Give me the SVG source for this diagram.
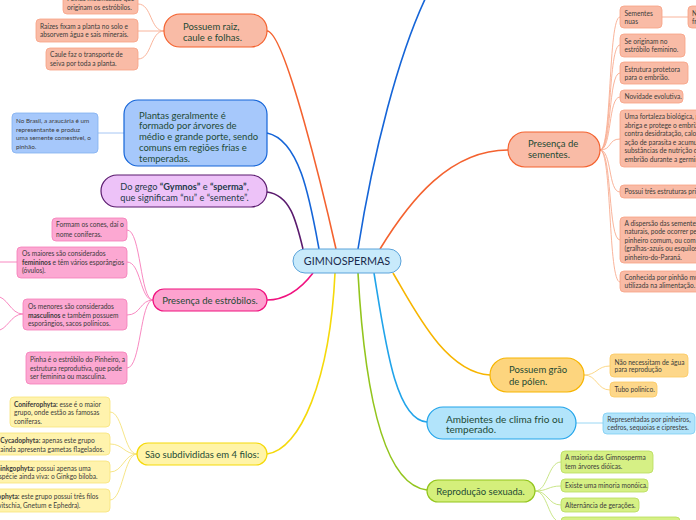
<svg xmlns="http://www.w3.org/2000/svg" width="696" height="520" viewBox="0 0 696 520">
<style>
text{font-family:Lato,"Noto Sans","Liberation Sans",sans-serif}
.m{font-size:9.5px;fill:#1e4a35}
.c{font-size:6.6px;fill:#3b3b3b}
.b{font-weight:bold}
.mid{text-anchor:middle}
.con path,.con line{fill:none}
.t{stroke-width:1.6}
.s{stroke-width:0.9}
</style>
<rect width="696" height="520" fill="#ffffff"/>
<g id="connectors" class="con">
<path class="t" stroke="#f4622f" d="M336,249 C325,200 285,31 267,31"/>
<path class="t" stroke="#1565d8" d="M319,249 C310,200 300,140 267,133"/>
<path class="t" stroke="#5a1a6e" d="M303,249 C296,220 290,195 267,192"/>
<path class="t" stroke="#f0127f" d="M313,273 C300,290 285,300 267,300"/>
<path class="t" stroke="#f5d90a" d="M335,273 C330,380 300,450 267,454"/>
<path class="t" stroke="#1565d8" d="M358,249 C372,160 398,50 432,-15"/>
<path class="t" stroke="#f4622f" d="M380,249 C410,200 450,150 508,150"/>
<path class="t" stroke="#93c51d" d="M358,273 C365,400 385,485 427,490"/>
<path class="t" stroke="#21a4ea" d="M374,273 C385,340 395,420 427,422"/>
<path class="t" stroke="#f7b500" d="M393,273 C415,310 445,372 490,375"/>
<g stroke="#f8ab90" class="s">
<path d="M164,31 C150,31 152,4 138,4"/>
<path d="M164,31 L138,31"/>
<path d="M164,31 C150,31 152,59 138,59"/>
</g>
<line stroke="#9cc0f3" class="s" x1="98" y1="133" x2="124" y2="133"/>
<g stroke="#f77cba" class="s">
<path d="M153,300 C140,300 141,230 127,230"/>
<path d="M153,300 C140,300 141,262 127,262"/>
<path d="M153,300 C140,300 141,315 127,315"/>
<path d="M153,300 C140,300 141,368 127,368"/>
<line x1="17" y1="262" x2="-5" y2="262"/>
<path d="M23,314 C10,314 8,296 -5,296"/>
<path d="M23,314 C10,314 8,331 -5,331"/>
</g>
<g stroke="#f5e27a" class="s">
<path d="M137,454 C124,454 123,412 110,412"/>
<path d="M137,454 C124,454 123,444 110,444"/>
<path d="M137,454 C124,454 123,472 110,472"/>
<path d="M137,454 C124,454 123,500 110,500"/>
</g>
<g stroke="#f8ab90" class="s">
<path d="M600,150 C612,150 608,17 620,17"/>
<path d="M600,150 C612,150 608,45 620,45"/>
<path d="M600,150 C612,150 608,73 620,73"/>
<path d="M600,150 C612,150 608,97 620,97"/>
<path d="M600,150 C612,150 608,139 620,139"/>
<path d="M600,150 C612,150 608,192 620,192"/>
<path d="M600,150 C612,150 608,240 620,240"/>
<path d="M600,150 C612,150 608,282 620,282"/>
<line x1="662" y1="17" x2="688" y2="17"/>
</g>
<g stroke="#fbd27a" class="s">
<path d="M584,375 C597,375 597,366 610,366"/>
<path d="M584,375 C597,375 597,390 610,390"/>
</g>
<line stroke="#8fd3f3" class="s" x1="576" y1="423" x2="603" y2="423"/>
<g stroke="#c3e27a" class="s">
<path d="M535,491 C548,491 548,462 561,462"/>
<path d="M535,491 C548,491 548,486 561,486"/>
<path d="M535,491 C548,491 548,505 561,505"/>
<path d="M535,491 C548,491 548,522 561,522"/>
</g>
</g>

<g id="center">
<rect x="293" y="249" width="108" height="24" rx="12" fill="#c8eafb" stroke="#5aa3da" stroke-width="1"/>
<text x="347" y="265" class="mid" style="font-size:10.8px;fill:#1a2b4c">GIMNOSPERMAS</text>
</g>

<g id="raiz">
<rect x="164" y="14" width="103" height="33" rx="16" fill="#f9bba6" stroke="#f4622f" stroke-width="1.2"/>
<text class="m" x="183" y="30.3">Possuem raiz,</text>
<text class="m" x="183" y="41">caule e folhas.</text>
</g>
<g id="raiz-a">
<rect x="63" y="-12" width="75" height="26" rx="4" fill="#f9bba6" stroke="#f8a184" stroke-width="0.8"/>
<text class="c" x="67" y="1">Folhas modificadas que</text>
<text class="c" x="67" y="9.8">originam os estróbilos.</text>
</g>
<g id="raiz-b">
<rect x="36" y="19" width="102" height="23" rx="4" fill="#f9bba6" stroke="#f8a184" stroke-width="0.8"/>
<text class="c" x="40" y="28.5">Raízes fixam a planta no solo e</text>
<text class="c" x="40" y="37.4">absorvem água e sais minerais.</text>
</g>
<g id="raiz-c">
<rect x="46" y="48" width="92" height="22" rx="4" fill="#f9bba6" stroke="#f8a184" stroke-width="0.8"/>
<text class="c" x="50" y="56.7">Caule faz o transporte de</text>
<text class="c" x="50" y="65.7">seiva por toda a planta.</text>
</g>

<g id="plantas">
<rect x="124" y="100" width="143" height="66" rx="14" fill="#a6c8fb" stroke="#1565d8" stroke-width="1.2"/>
<text class="m" x="139" y="118.5">Plantas geralmente é</text>
<text class="m" x="139" y="129.3">formado por árvores de</text>
<text class="m" x="139" y="140.1">médio e grande porte, sendo</text>
<text class="m" x="139" y="150.9">comuns em regiões frias e</text>
<text class="m" x="139" y="161.7">temperadas.</text>
</g>
<g id="plantas-a">
<rect x="12" y="113" width="86" height="40" rx="4" fill="#a6c8fb" stroke="#82b0f0" stroke-width="0.8"/>
<text class="c" x="16" y="123.4" style="font-size:6.3px">No Brasil, a araucária é um</text>
<text class="c" x="16" y="131.8" style="font-size:6.3px">representante e produz</text>
<text class="c" x="16" y="140.4" style="font-size:6.3px">uma semente comestível, o</text>
<text class="c" x="16" y="149" style="font-size:6.3px">pinhão.</text>
</g>

<g id="grego">
<rect x="101" y="175" width="166" height="32" rx="16" fill="#edc2f8" stroke="#5a1a6e" stroke-width="1.2"/>
<text class="m mid" x="184.5" y="190" style="font-size:9.2px;fill:#243a4a">Do grego <tspan class="b">“Gymnos”</tspan> e <tspan class="b">“sperma”</tspan>,</text>
<text class="m mid" x="184.5" y="201.4" style="font-size:9.2px;fill:#243a4a">que significam “nu” e “semente”.</text>
</g>

<g id="estrobilos">
<rect x="153" y="289" width="114" height="22" rx="11" fill="#fda2cf" stroke="#f0127f" stroke-width="1.2"/>
<text class="m mid" x="210" y="304">Presença de estróbilos.</text>
</g>
<g id="estrobilos-a">
<rect x="52" y="218" width="75" height="23" rx="4" fill="#fca8d2" stroke="#f57cb8" stroke-width="0.8"/>
<text class="c" x="56" y="227.4">Formam os cones, daí o</text>
<text class="c" x="56" y="236.6">nome coníferas.</text>
</g>
<g id="estrobilos-b">
<rect x="17" y="247" width="110" height="31" rx="4" fill="#fca8d2" stroke="#f57cb8" stroke-width="0.8"/>
<text class="c" x="22" y="255.6">Os maiores são considerados</text>
<text class="c" x="22" y="264.6"><tspan class="b">femininos</tspan> e têm vários esporângios</text>
<text class="c" x="22" y="273.4">(óvulos).</text>
</g>
<g id="estrobilos-c">
<rect x="23" y="299" width="104" height="31" rx="4" fill="#fca8d2" stroke="#f57cb8" stroke-width="0.8"/>
<text class="c" x="28" y="309">Os menores são considerados</text>
<text class="c" x="28" y="317.6"><tspan class="b">masculinos</tspan>  e também possuem</text>
<text class="c" x="28" y="326">esporângios, sacos polínicos.</text>
</g>
<g id="estrobilos-d">
<rect x="26" y="352" width="101" height="32" rx="4" fill="#fca8d2" stroke="#f57cb8" stroke-width="0.8"/>
<text class="c" x="30" y="361.6">Pinha é o estróbilo do Pinheiro, a</text>
<text class="c" x="30" y="370.6">estrutura reprodutiva, que pode</text>
<text class="c" x="30" y="379.4">ser feminina ou masculina.</text>
</g>

<g id="filos">
<rect x="137" y="443" width="130" height="22" rx="11" fill="#fff4a8" stroke="#f5d90a" stroke-width="1.2"/>
<text class="m mid" x="202" y="457.5">São subdivididas em 4 filos:</text>
</g>
<g id="filos-a">
<rect x="10" y="397" width="100" height="30" rx="4" fill="#fff3ad" stroke="#f7e37a" stroke-width="0.8"/>
<text class="c" x="14" y="406.5"><tspan class="b">Coniferophyta:</tspan> esse é o maior</text>
<text class="c" x="14" y="415">grupo, onde estão as famosas</text>
<text class="c" x="14" y="423.5">coníferas.</text>
</g>
<g id="filos-b">
<rect x="-5" y="433" width="115" height="22" rx="4" fill="#fff3ad" stroke="#f7e37a" stroke-width="0.8"/>
<text class="c" x="0.3" y="443"><tspan class="b">Cycadophyta:</tspan> apenas este grupo</text>
<text class="c" x="0.3" y="451.6">ainda apresenta gametas flagelados.</text>
</g>
<g id="filos-c">
<rect x="-8" y="461" width="118" height="22" rx="4" fill="#fff3ad" stroke="#f7e37a" stroke-width="0.8"/>
<text class="c" x="-4.5" y="470.7"><tspan class="b">Ginkgophyta:</tspan> possui apenas uma</text>
<text class="c" x="-4.5" y="479.2">espécie ainda viva: o Ginkgo biloba.</text>
</g>
<g id="filos-d">
<rect x="-20" y="489" width="130" height="23" rx="4" fill="#fff3ad" stroke="#f7e37a" stroke-width="0.8"/>
<text class="c" x="-17" y="499"><tspan class="b">Gnetophyta:</tspan> este grupo possui três filos</text>
<text class="c" x="-17" y="507.5">(Welwitschia, Gnetum e Ephedra).</text>
</g>

<g id="sementes">
<rect x="508" y="132" width="92" height="35" rx="17" fill="#f9bba6" stroke="#f4622f" stroke-width="1.2"/>
<text class="m" x="528" y="146.6">Presença de</text>
<text class="m" x="528" y="157.6">sementes.</text>
</g>
<g id="sementes-a">
<rect x="620" y="6" width="42" height="22" rx="4" fill="#f9bba6" stroke="#f8a184" stroke-width="0.8"/>
<text class="c" x="624.5" y="16.3">Sementes</text>
<text class="c" x="624.5" y="24.3">nuas</text>
</g>
<g id="sementes-a1">
<rect x="688" y="6" width="40" height="22" rx="4" fill="#f9bba6" stroke="#f8a184" stroke-width="0.8"/>
<text class="c" x="692" y="16.3">Não</text>
<text class="c" x="692" y="24.3">frutos</text>
</g>
<g id="sementes-b">
<rect x="620" y="34" width="65" height="23" rx="4" fill="#f9bba6" stroke="#f8a184" stroke-width="0.8"/>
<text class="c" x="624.5" y="44">Se originam no</text>
<text class="c" x="624.5" y="52.4">estróbilo feminino.</text>
</g>
<g id="sementes-c">
<rect x="620" y="62" width="68" height="22" rx="4" fill="#f9bba6" stroke="#f8a184" stroke-width="0.8"/>
<text class="c" x="624.5" y="72.3">Estrutura protetora</text>
<text class="c" x="624.5" y="80.2">para o embrião.</text>
</g>
<g id="sementes-d">
<rect x="620" y="90" width="63" height="13" rx="4" fill="#f9bba6" stroke="#f8a184" stroke-width="0.8"/>
<text class="c" x="624.5" y="99.4">Novidade evolutiva.</text>
</g>
<g id="sementes-e">
<rect x="620" y="110" width="100" height="57" rx="4" fill="#f9bba6" stroke="#f8a184" stroke-width="0.8"/>
<text class="c" x="624.5" y="119.4">Uma fortaleza biológica, pois</text>
<text class="c" x="624.5" y="127.8">abriga e protege o embrião</text>
<text class="c" x="624.5" y="136.4">contra desidratação, calor,</text>
<text class="c" x="624.5" y="144.8">ação de parasita e acumula</text>
<text class="c" x="624.5" y="153.4">substâncias de nutrição do</text>
<text class="c" x="624.5" y="162">embrião durante a germinação.</text>
</g>
<g id="sementes-f">
<rect x="620" y="185" width="100" height="13" rx="4" fill="#f9bba6" stroke="#f8a184" stroke-width="0.8"/>
<text class="c" x="624.5" y="194.2">Possui três estruturas principais.</text>
</g>
<g id="sementes-g">
<rect x="620" y="217" width="100" height="46" rx="4" fill="#f9bba6" stroke="#f8a184" stroke-width="0.8"/>
<text class="c" x="624.5" y="225.8">A dispersão das sementes</text>
<text class="c" x="624.5" y="234.2">naturais, pode ocorrer pelo</text>
<text class="c" x="624.5" y="242.7">pinheiro comum, ou com</text>
<text class="c" x="624.5" y="251.3">(gralhas-azuis ou esquilos)</text>
<text class="c" x="624.5" y="259.7">pinheiro-do-Paraná.</text>
</g>
<g id="sementes-h">
<rect x="620" y="271" width="100" height="21" rx="4" fill="#f9bba6" stroke="#f8a184" stroke-width="0.8"/>
<text class="c" x="624.5" y="280">Conhecida por pinhão muito</text>
<text class="c" x="624.5" y="288.2">utilizada na alimentação.</text>
</g>

<g id="polen">
<rect x="490" y="358" width="94" height="34" rx="17" fill="#fdd57e" stroke="#f7b500" stroke-width="1.2"/>
<text class="m" x="509" y="373.3">Possuem grão</text>
<text class="m" x="509" y="385">de pólen.</text>
</g>
<g id="polen-a">
<rect x="610" y="354" width="78" height="23" rx="4" fill="#fdd78a" stroke="#fbc960" stroke-width="0.8"/>
<text class="c" x="614.5" y="364.5">Não necessitam de água</text>
<text class="c" x="614.5" y="372.2">para reprodução</text>
</g>
<g id="polen-b">
<rect x="610" y="382" width="47" height="15" rx="4" fill="#fdd78a" stroke="#fbc960" stroke-width="0.8"/>
<text class="c" x="614.5" y="392.3">Tubo polínico.</text>
</g>

<g id="ambientes">
<rect x="427" y="407" width="149" height="32" rx="16" fill="#b2e4fb" stroke="#21a4ea" stroke-width="1.2"/>
<text class="m" x="446" y="422.6" style="font-size:10px">Ambientes de clima frio ou</text>
<text class="m" x="446" y="433.2" style="font-size:10px">temperado.</text>
</g>
<g id="ambientes-a">
<rect x="603" y="413" width="92" height="21" rx="4" fill="#b2e4fb" stroke="#7ccdf2" stroke-width="0.8"/>
<text class="c" x="607.3" y="421.6">Representadas por pinheiros,</text>
<text class="c" x="607.3" y="430.2">cedros, sequoias e ciprestes.</text>
</g>

<g id="reproducao">
<rect x="427" y="480" width="108" height="22" rx="11" fill="#d4ef7b" stroke="#93c51d" stroke-width="1.2"/>
<text class="m mid" x="480.5" y="494.5">Reprodução sexuada.</text>
</g>
<g id="reproducao-a">
<rect x="561" y="451" width="92" height="22" rx="4" fill="#d6f085" stroke="#b8dc5a" stroke-width="0.8"/>
<text class="c" x="565" y="460.2">A maioria das Gimnosperma</text>
<text class="c" x="565" y="469">tem árvores dióicas.</text>
</g>
<g id="reproducao-b">
<rect x="561" y="479" width="87" height="13" rx="4" fill="#d6f085" stroke="#b8dc5a" stroke-width="0.8"/>
<text class="c" x="565" y="488">Existe uma minoria monóica.</text>
</g>
<g id="reproducao-c">
<rect x="561" y="498" width="78" height="14" rx="4" fill="#d6f085" stroke="#b8dc5a" stroke-width="0.8"/>
<text class="c" x="565" y="507.5">Alternância de gerações.</text>
</g>
<g id="reproducao-d">
<rect x="561" y="517" width="119" height="20" rx="4" fill="#d6f085" stroke="#b8dc5a" stroke-width="0.8"/>
</g>
</svg>
